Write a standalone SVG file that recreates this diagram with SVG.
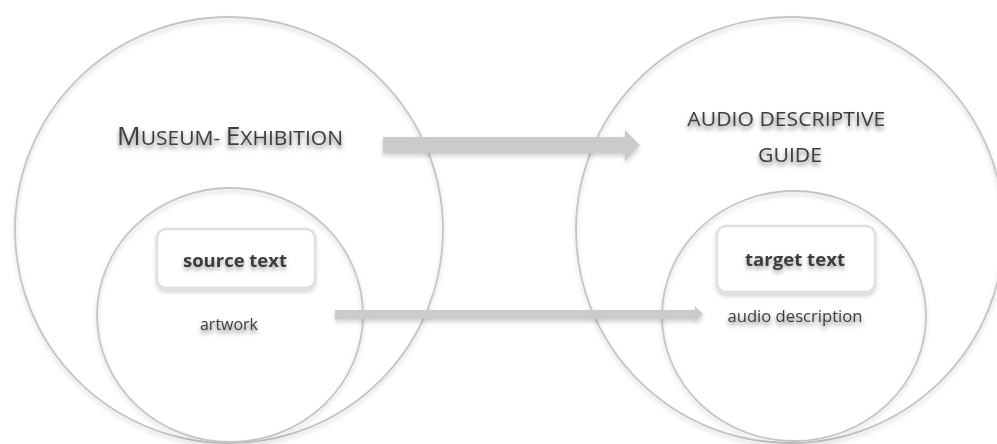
<svg xmlns="http://www.w3.org/2000/svg" width="997" height="444" viewBox="0 0 997 444">
  <defs>
    <filter id="soft" x="-10%" y="-10%" width="120%" height="130%">
      <feDropShadow dx="0" dy="3" stdDeviation="2" flood-color="#000" flood-opacity="0.18"/>
    </filter>
    <filter id="txtShadow" x="-10%" y="-30%" width="120%" height="180%">
      <feDropShadow dx="0" dy="3" stdDeviation="2" flood-color="#000" flood-opacity="0.35"/>
    </filter>
  </defs>
  <style>
    .ring { fill: none; stroke: #c4c4c4; stroke-width: 1.8; }
    .box { fill: #fff; stroke: #dedede; stroke-width: 2.5; }
    .lbl { font-family: "Open Sans", "Liberation Sans", sans-serif; fill: #3c3c3c; }
    .arrow { fill: #cbcbcb; }
  </style>
  <rect width="997" height="444" fill="#fff"/>

  <!-- outer contexts -->
  <g id="museum-exhibition" filter="url(#soft)">
    <ellipse class="ring" cx="229" cy="230" rx="214" ry="213"/>
    <text class="lbl" x="117" y="145" textLength="226" lengthAdjust="spacingAndGlyphs" filter="url(#txtShadow)"><tspan font-size="25">M</tspan><tspan font-size="20">USEUM- </tspan><tspan font-size="25">E</tspan><tspan font-size="20">XHIBITION</tspan></text>
  </g>

  <g id="audio-descriptive-guide" filter="url(#soft)">
    <ellipse class="ring" cx="790" cy="230" rx="214" ry="213"/>
    <text class="lbl" font-size="20.5" text-anchor="middle" filter="url(#txtShadow)">
      <tspan x="789" y="126" textLength="198" lengthAdjust="spacingAndGlyphs">AUDIO DESCRIPTIVE</tspan>
      <tspan x="790" y="162" textLength="64" lengthAdjust="spacingAndGlyphs">GUIDE</tspan>
    </text>
  </g>

  <!-- inner items -->
  <g id="source" filter="url(#soft)">
    <ellipse class="ring" cx="230" cy="315" rx="133" ry="127"/>
    <rect class="box" x="157" y="229" width="158" height="59" rx="9"/>
    <text class="lbl" x="235" y="267" font-size="18" font-weight="bold" text-anchor="middle" textLength="104" lengthAdjust="spacingAndGlyphs" filter="url(#txtShadow)">source text</text>
    <text class="lbl" x="229" y="330" font-size="15.5" text-anchor="middle" textLength="58" lengthAdjust="spacingAndGlyphs" filter="url(#txtShadow)">artwork</text>
  </g>

  <g id="target" filter="url(#soft)">
    <ellipse class="ring" cx="794" cy="316" rx="132" ry="125"/>
    <rect class="box" x="717" y="226" width="158" height="66" rx="9"/>
    <text class="lbl" x="795" y="266" font-size="18" font-weight="bold" text-anchor="middle" textLength="100" lengthAdjust="spacingAndGlyphs" filter="url(#txtShadow)">target text</text>
    <text class="lbl" x="795" y="322" font-size="16" text-anchor="middle" textLength="135" lengthAdjust="spacingAndGlyphs" filter="url(#txtShadow)">audio description</text>
  </g>

  <!-- connectors -->
  <g id="connectors" filter="url(#soft)">
    <polygon class="arrow" points="383,137 625,137 625,130 640,145 625,161 625,153 383,153"/>
    <polygon class="arrow" points="335,310 695,310 695,306 703,314 695,322 695,319 335,319"/>
  </g>
</svg>
